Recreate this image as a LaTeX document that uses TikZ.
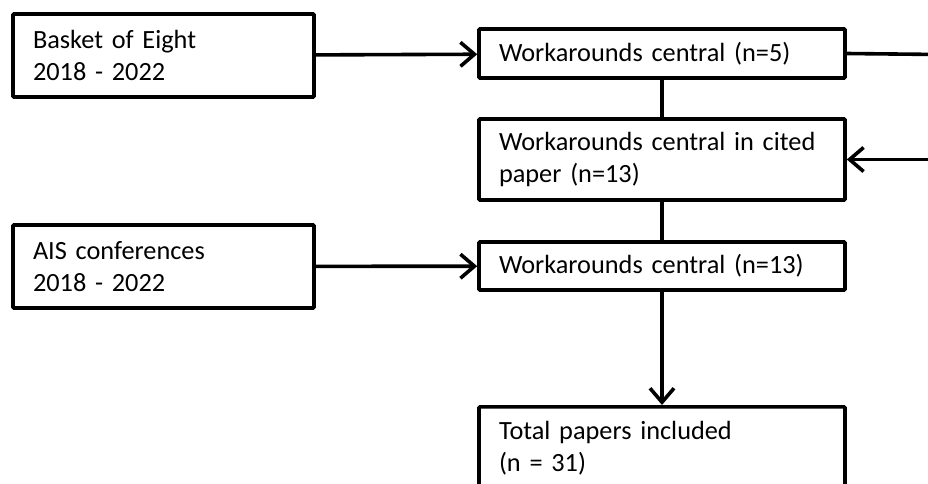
\documentclass[tikz,border=0pt]{standalone}
\usepackage{fontspec}
\setmainfont[WordSpace=0.85]{Carlito}
\usetikzlibrary{arrows.meta,positioning}

\begin{document}
\begin{tikzpicture}[x=1pt,y=-1pt,line width=3.6pt,
    font=\fontsize{26.3}{31.5}\selectfont,
    box/.style={draw,rectangle,rounded corners=1pt,align=left,inner xsep=20pt,inner ysep=0pt},
    srcbox/.style={box,text width=261pt,minimum height=83pt},
    stagebox/.style={box,text width=326pt},
    arr/.style={-{Straight Barb[length=14pt,width=24pt,line width=3.6pt]}}]
    \useasboundingbox (0,0) rectangle (928,483);
    \clip (0,0) rectangle (928,483);
    \node[srcbox] (boe) at (163.5,55.5) {Basket of Eight\\2018 - 2022};
    \node[srcbox] (ais) at (163.5,266.5) {AIS conferences\\2018 - 2022};
    \node[stagebox,minimum height=49pt] (wc5) at (662,53.5) {Workarounds central (n=5)};
    \node[stagebox,minimum height=81pt] (cited) at (662,159.5) {Workarounds central in cited\\paper (n=13)};
    \node[stagebox,minimum height=48pt] (wc13) at (662,266) {Workarounds central (n=13)};
    \node[stagebox,minimum height=83pt,anchor=north] (total) at (662,405) {Total papers included\\(n = 31)};
    \coordinate (offa) at (940,54.5);
    \coordinate (offb) at (940,159.5);
    \draw[arr] (boe) -- (wc5);
    \draw[arr] (ais) -- (wc13);
    \draw (wc5) -- (cited);
    \draw (cited) -- (wc13);
    \draw[arr] (wc13) -- (total);
    \draw (wc5.east) -- (offa);
    \draw[arr] (offb) -- (cited.east);
\end{tikzpicture}
\end{document}
